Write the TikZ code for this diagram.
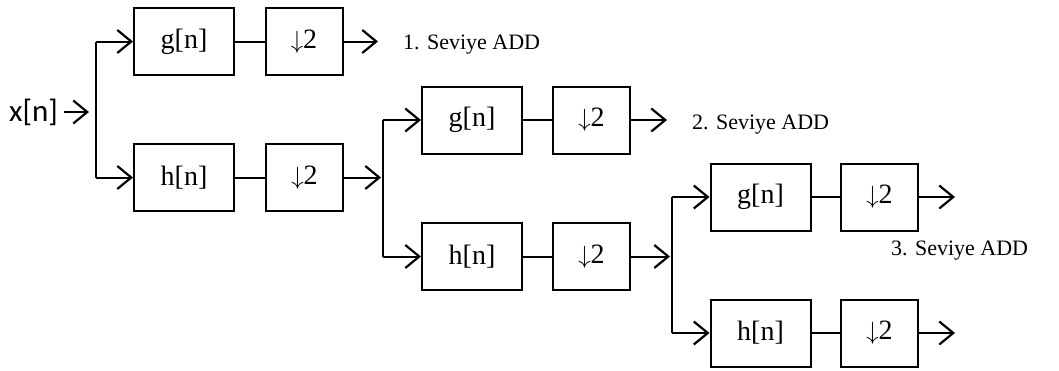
\documentclass[tikz,border=0pt]{standalone}
\usepackage{fontspec}
\setmainfont{Liberation Serif}
\newfontfamily\xfont{Carlito}
\usetikzlibrary{arrows.meta}
\newcommand{\dsamp}{$\downarrow$2}
\begin{document}
\begin{tikzpicture}[x=1pt,y=-1pt,
  blk/.style={draw, line width=2pt, minimum width=100pt, minimum height=67pt,
    inner sep=0pt, font=\fontsize{28}{30}\selectfont},
  dwn/.style={blk, minimum width=77pt},
  wire/.style={line width=2pt},
  arr/.style={wire, -{Straight Barb[length=14pt,width=23pt,line width=2.2pt]}},
  lbl/.style={anchor=west, inner sep=0pt, font=\fontsize{22}{24}\selectfont}]
\useasboundingbox (0,0) rectangle (1059,370);

% input signal
\node[anchor=west, inner sep=0pt, font=\xfont\fontsize{31}{33}\selectfont] (x) at (9,112) {x[n]};
\coordinate (in1) at (89,112);

% level 1
\node[blk] (g1) at (184,41.5) {g[n]};
\node[dwn] (d1) at (304,41.5) {\dsamp};
\node[blk] (h1) at (184,177.5) {h[n]};
\node[dwn] (e1) at (304.5,177.5) {\dsamp};
\coordinate (s1t) at (96,41.5);
\coordinate (s1b) at (96,177.5);
\coordinate (o1) at (378,41.5);
\node[lbl] (t1) at (403,45) {1. Seviye ADD};

% level 2
\node[blk] (g2) at (472,120) {g[n]};
\node[dwn] (d2) at (591.5,120) {\dsamp};
\node[blk] (h2) at (472,256.5) {h[n]};
\node[dwn] (e2) at (591.5,256.5) {\dsamp};
\coordinate (s2t) at (383,120);
\coordinate (s2b) at (383,256.5);
\coordinate (s2m) at (381,177.5);
\coordinate (o2) at (667,120);
\node[lbl] (t2) at (692,125) {2. Seviye ADD};

% level 3
\node[blk] (g3) at (760.5,197) {g[n]};
\node[dwn] (d3) at (879.5,197) {\dsamp};
\node[blk] (h3) at (760.5,333) {h[n]};
\node[dwn] (e3) at (879.5,333) {\dsamp};
\coordinate (s3t) at (672,197);
\coordinate (s3b) at (672,333);
\coordinate (s3m) at (670,256.5);
\coordinate (o3) at (955,197);
\coordinate (o4) at (955,333);
\node[lbl] (t3) at (891,251) {3. Seviye ADD};

% connectors
\draw[arr] (x.east) ++(6,0) -- (in1);
\draw[wire] (s1t) -- (s1b);
\draw[arr] (s1t) -- (g1.west);
\draw[arr] (s1b) -- (h1.west);
\draw[wire] (g1) -- (d1);
\draw[wire] (h1) -- (e1);
\draw[arr] (d1.east) -- (o1);
\draw[arr] (e1.east) -- (s2m);

\draw[wire] (s2t) -- (s2b);
\draw[arr] (s2t) -- (g2.west);
\draw[arr] (s2b) -- (h2.west);
\draw[wire] (g2) -- (d2);
\draw[wire] (h2) -- (e2);
\draw[arr] (d2.east) -- (o2);
\draw[arr] (e2.east) -- (s3m);

\draw[wire] (s3t) -- (s3b);
\draw[arr] (s3t) -- (g3.west);
\draw[arr] (s3b) -- (h3.west);
\draw[wire] (g3) -- (d3);
\draw[wire] (h3) -- (e3);
\draw[arr] (d3.east) -- (o3);
\draw[arr] (e3.east) -- (o4);
\end{tikzpicture}
\end{document}
